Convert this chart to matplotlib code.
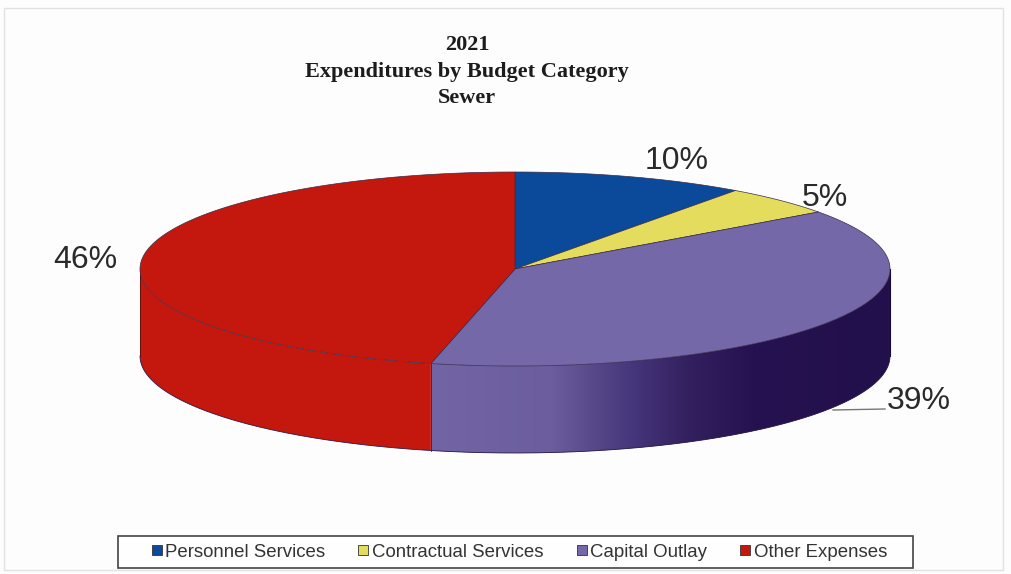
import numpy as np
import matplotlib.pyplot as plt
from matplotlib.colors import LinearSegmentedColormap
from matplotlib.lines import Line2D
from matplotlib.patches import Polygon, Rectangle

# data
categories = ['Personnel Services', 'Contractual Services', 'Capital Outlay', 'Other Expenses']
values = [10, 5, 38.6, 46.4]
labels = ['10%', '5%', '39%', '46%']
top_colors = ['#0b4a9a', '#e4dc5c', '#7568a8', '#c4170d']
side_colors = ['#0b3a7a', '#b0aa40', '#6a5c9c', '#c4170d']
title_lines = ['2021', 'Expenditures by Budget Category', 'Sewer']

# pie geometry, in pixels of the 1011x574 picture
cx, cy = 515, 269
rx, ry = 375, 97
depth = 87

fig = plt.figure(figsize=(10.11, 5.74), dpi=100, facecolor='#fdfdfd')
ax = fig.add_axes([0, 0, 1, 1])
ax.set_xlim(0, 1011)
ax.set_ylim(574, 0)
ax.axis('off')


def arc(a0, a1, dy=0):
	# angle is clockwise from the top of the ellipse
	t = np.radians(np.linspace(a0, a1, 200))
	return np.column_stack((cx + rx * np.sin(t), cy - ry * np.cos(t) + dy))


# chart frame, faint in the scan
ax.add_patch(Rectangle((4, 8), 999, 562, fill=False, ec='#e2e2e2', lw=1))

bounds = np.cumsum([0] + values) / sum(values) * 360

# side wall, only the front half of the ellipse shows
for i in range(len(values)):
	a0 = max(bounds[i], 90)
	a1 = min(bounds[i + 1], 270)
	if a1 <= a0:
		continue
	upper = arc(a0, a1)
	lower = arc(a0, a1, depth)[::-1]
	wall = Polygon(np.vstack((upper, lower)), closed=True, fc=side_colors[i], ec='none', zorder=2)
	ax.add_patch(wall)
	if categories[i] == 'Capital Outlay':
		# dark shading toward the right, like the old office 3D pies
		shade = LinearSegmentedColormap.from_list('shade', [
			(0.0, '#7265a5'), (0.26, '#6c5e9e'), (0.36, '#564789'), (0.44, '#45357a'),
			(0.56, '#33205f'), (0.70, '#261250'), (1.0, '#21104c')])
		xs = upper[:, 0]
		ys = np.vstack((upper, lower))[:, 1]
		im = ax.imshow(np.linspace(0, 1, 256).reshape(1, -1), cmap=shade, aspect='auto',
			extent=(xs.min(), xs.max(), ys.max(), ys.min()), zorder=3)
		im.set_clip_path(wall)
		ax.set_xlim(0, 1011)
		ax.set_ylim(574, 0)

# wall outlines
ax.plot(*arc(90, 270, depth).T, color='#2a1c4a', lw=0.6, zorder=4)
x_left = cx - rx
x_right = cx + rx
ax.plot([x_left, x_left], [cy, cy + depth], color='#5a0f0a', lw=0.6, zorder=4)
ax.plot([x_right, x_right], [cy, cy + depth], color='#1a0c3a', lw=0.8, zorder=4)
front = arc(bounds[3], bounds[3])[0]
ax.plot([front[0], front[0]], [front[1], front[1] + depth], color='#4a1a30', lw=0.6, zorder=4)

# top slices
for i in range(len(values)):
	pts = np.vstack(([[cx, cy]], arc(bounds[i], bounds[i + 1])))
	ax.add_patch(Polygon(pts, closed=True, fc=top_colors[i], ec='#3a2c4a', lw=0.5, zorder=5))

# title
for line, y in zip(title_lines, [45, 72, 98]):
	ax.text(467, y, line, ha='center', va='center', fontsize=16, fontweight='bold',
		family='Liberation Serif', color='#1c1c1c', zorder=6)

# percent labels
label_pos = [(677, 161), (825, 198), (919, 401), (85, 260)]
for s, (x, y) in zip(labels, label_pos):
	ax.text(x, y, s, ha='center', va='center', fontsize=23, family='Liberation Sans',
		color='#2a2a2a', zorder=6)
ax.plot([833, 885], [410, 409], color='#777777', lw=1, zorder=6)

# legend, box drawn apart because its side padding is wider than its top padding
ax.add_patch(Rectangle((118, 536), 795, 32, fc='#fefefe', ec='#444444', lw=1.2, zorder=6))
handles = [Line2D([], [], ls='none', marker='s', ms=7.5, mfc=c, mec='#333333', mew=0.6) for c in top_colors]
leg = ax.legend(handles, categories, ncol=4, loc='center', bbox_to_anchor=(519 / 1011, 1 - 552 / 574),
	frameon=False, prop={'family': 'Liberation Sans', 'size': 13.4}, labelcolor='#333333',
	handlelength=0.6, handletextpad=0.15, columnspacing=1.76, borderpad=0, borderaxespad=0)
leg.set_zorder(7)

fig.savefig('out.png', dpi=100, facecolor=fig.get_facecolor())
